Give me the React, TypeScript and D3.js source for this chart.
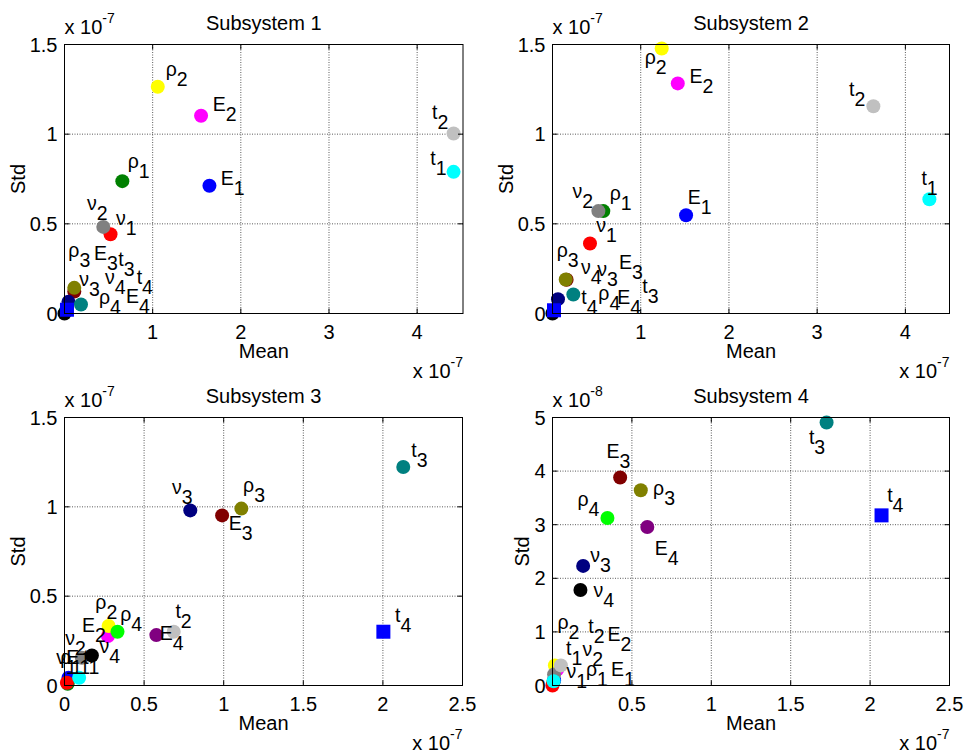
import React from 'react';
import * as d3 from 'd3';

// Series (drawing order) : symbol + subscript, colour and marker
const SYMBOLS = ['E', 'E', 'E', 'E', 'ρ', 'ρ', 'ρ', 'ρ', 'ν', 'ν', 'ν', 'ν', 't', 't', 't', 't'];
const SUBSCRIPTS = ['1', '2', '3', '4', '1', '2', '3', '4', '1', '2', '3', '4', '1', '2', '3', '4'];
const COLORS = [
  '#0000ff', '#ff00ff', '#800000', '#800080',
  '#008000', '#ffff00', '#808000', '#00ff00',
  '#ff0000', '#808080', '#000080', '#000000',
  '#00ffff', '#c0c0c0', '#008080', '#0000ff',
];
const MARKERS = ['o', 'o', 'o', 'o', 'o', 'o', 'o', 'o', 'o', 'o', 'o', 'o', 'o', 'o', 'o', 's'];

// Subsystem 1 (Mean x1e-7, Std x1e-7)
const S1_MEAN = [1.644, 1.549, 0.111, 0.03, 0.656, 1.058, 0.111, 0.02, 0.522, 0.44, 0.045, 0.0, 4.413, 4.413, 0.187, 0.028];
const S1_STD = [0.712, 1.103, 0.122, 0.03, 0.738, 1.264, 0.143, 0.02, 0.442, 0.483, 0.065, 0.0, 0.79, 1.004, 0.05, 0.021];
// Subsystem 2 (Mean x1e-7, Std x1e-7)
const S2_MEAN = [1.514, 1.42, 0.16, 0.01, 0.576, 1.238, 0.15, 0.01, 0.425, 0.52, 0.062, 0.0, 4.272, 3.637, 0.236, 0.017];
const S2_STD = [0.548, 1.283, 0.188, 0.01, 0.571, 1.478, 0.19, 0.01, 0.39, 0.571, 0.08, 0.0, 0.637, 1.156, 0.106, 0.018];
// Subsystem 3 (Mean x1e-7, Std x1e-7)
const S3_MEAN = [0.025, 0.273, 0.99, 0.577, 0.02, 0.277, 1.111, 0.333, 0.015, 0.109, 0.79, 0.172, 0.092, 0.686, 2.128, 2.003];
const S3_STD = [0.043, 0.277, 0.952, 0.282, 0.01, 0.333, 0.99, 0.301, 0.015, 0.155, 0.98, 0.168, 0.043, 0.301, 1.223, 0.301];
// Subsystem 4 (Mean x1e-7, Std x1e-8)
const S4_MEAN = [0.01, 0.03, 0.426, 0.597, 0.005, 0.015, 0.556, 0.346, 0.0, 0.01, 0.193, 0.176, 0.007, 0.053, 1.726, 2.072];
const S4_STD = [0.1, 0.3, 3.881, 2.956, 0.05, 0.375, 3.643, 3.125, 0.0, 0.206, 2.231, 1.781, 0.08, 0.375, 4.906, 3.174];

const TITLES = ['Subsystem 1', 'Subsystem 2', 'Subsystem 3', 'Subsystem 4'];
const X_DOMAINS = [[0, 4.52], [0, 4.5], [0, 2.5], [0, 2.5]];
const Y_DOMAINS = [[0, 1.5], [0, 1.5], [0, 1.5], [0, 5]];
const X_TICKS = [[1, 2, 3, 4], [1, 2, 3, 4], [0, 0.5, 1, 1.5, 2, 2.5], [0.5, 1, 1.5, 2, 2.5]];
const Y_TICKS = [[0, 0.5, 1, 1.5], [0, 0.5, 1, 1.5], [0, 0.5, 1, 1.5], [0, 1, 2, 3, 4, 5]];
const X_EXP = ['-7', '-7', '-7', '-7'];
const Y_EXP = ['-7', '-7', '-7', '-8'];

// label placement (pixel offsets from the marker: left edge, baseline)
const LABEL_OFFSETS = [
  [[11.4, -0.7], [11.7, -4.5], [19.7, -31.5], [58.9, -4.7], [5.4, -12.7], [8, -10.7], [-6, -31], [32.7, -6.4],
   [5.5, -9], [-16.2, -16.7], [10.7, -15.7], [40.5, -30], [-23.3, -6.7], [-21.6, -14], [37.3, -39], [69.7, -26]],
  [[1.7, -11.7], [11.6, 0], [52.3, -10.7], [63.9, -8.2], [6.4, -11], [-17, 15.7], [-9, -22.6], [44.9, -11.5],
   [6.3, -11.6], [-26, -13.3], [39.3, -23], [28.4, -40], [-8, -14.7], [-24.3, -10], [69, -1], [27.3, -6.7]],
  [[-2.3, -14], [-26, -4.3], [6.6, 14.4], [3.3, 4.4], [-7.5, -20], [-13.3, -16.6], [1.7, -16.7], [2.7, -10.7],
   [-10.7, -19], [-16.7, -13.3], [-18.3, -16], [7.6, -2.7], [4, -14], [1.7, -14], [8, -10], [11.6, -10]],
  [[56.8, -4], [50.2, -28.3], [-13.7, -19.7], [7.4, 28.4], [32.6, -6.6], [2.6, -36.7], [12.3, 5], [-30, -11.6],
   [14, -7.7], [28.3, -18.3], [7, -3.7], [13, 7.3], [12.4, -26.7], [27.3, -32.7], [-17.7, 21.7], [5.6, -13.4]],
];

const MEANS = [S1_MEAN, S2_MEAN, S3_MEAN, S4_MEAN];
const STDS = [S1_STD, S2_STD, S3_STD, S4_STD];

const PANEL_RECTS = [
  { left: 64.5, top: 44.5, width: 398.5, height: 269 },
  { left: 552.5, top: 44.5, width: 397, height: 269 },
  { left: 64.5, top: 417.5, width: 398, height: 268 },
  { left: 552.5, top: 417.5, width: 397, height: 268 },
];

const FONT = '"Liberation Sans", Arial, Helvetica, sans-serif';
const FS = 20;
const LFS = 19.5;

function textWidth(s: string, fs: number) {
  let w = 0;
  for (const c of s) w += c === '.' ? 0.278 : 0.556;
  return w * fs;
}

function Panel({ i }: { i: number }) {
  const r = PANEL_RECTS[i];
  const x = d3.scaleLinear().domain(X_DOMAINS[i]).range([r.left, r.left + r.width]);
  const y = d3.scaleLinear().domain(Y_DOMAINS[i]).range([r.top + r.height, r.top]);
  const bottom = r.top + r.height;
  const right = r.left + r.width;
  const tl = 5;
  const fmt = (v: number) => String(v);
  const maxYW = d3.max(Y_TICKS[i], (v) => textWidth(fmt(v), FS)) || 0;
  const mean = MEANS[i];
  const std = STDS[i];
  return (
    <g>
      {/* grid */}
      {X_TICKS[i].map((v) => (
        <line key={'gx' + v} x1={x(v)} x2={x(v)} y1={r.top} y2={bottom} stroke="#000" strokeOpacity={0.65} strokeWidth={1} strokeDasharray="1,1.5" />
      ))}
      {Y_TICKS[i].map((v) => (
        <line key={'gy' + v} x1={r.left} x2={right} y1={y(v)} y2={y(v)} stroke="#000" strokeOpacity={0.65} strokeWidth={1} strokeDasharray="1,1.5" />
      ))}
      {/* markers */}
      {mean.map((m, k) =>
        MARKERS[k] === 's' ? (
          <rect key={'m' + k} x={x(m) - 7} y={y(std[k]) - 7} width={14} height={14} fill={COLORS[k]} />
        ) : (
          <circle key={'m' + k} cx={x(m)} cy={y(std[k])} r={7} fill={COLORS[k]} />
        )
      )}
      {/* labels */}
      {mean.map((m, k) => (
        <text key={'l' + k} x={x(m) + LABEL_OFFSETS[i][k][0]} y={y(std[k]) + LABEL_OFFSETS[i][k][1]} fontSize={LFS} fontFamily={FONT} fill="#000">
          {SYMBOLS[k]}
          <tspan dy={10}>{SUBSCRIPTS[k]}</tspan>
        </text>
      ))}
      {/* box */}
      <rect x={r.left} y={r.top} width={r.width} height={r.height} fill="none" stroke="#000" strokeWidth={1} />
      {/* ticks */}
      {X_TICKS[i].map((v) => (
        <g key={'tx' + v}>
          <line x1={x(v)} x2={x(v)} y1={bottom} y2={bottom - tl} stroke="#000" />
          <line x1={x(v)} x2={x(v)} y1={r.top} y2={r.top + tl} stroke="#000" />
          <text x={x(v)} y={bottom + 25} textAnchor="middle" fontSize={FS} fontFamily={FONT}>{fmt(v)}</text>
        </g>
      ))}
      {Y_TICKS[i].map((v) => (
        <g key={'ty' + v}>
          <line x1={r.left} x2={r.left + tl} y1={y(v)} y2={y(v)} stroke="#000" />
          <line x1={right} x2={right - tl} y1={y(v)} y2={y(v)} stroke="#000" />
          <text x={r.left - 7} y={y(v) + 7} textAnchor="end" fontSize={FS} fontFamily={FONT}>{fmt(v)}</text>
        </g>
      ))}
      {/* title & axis labels */}
      <text x={(r.left + right) / 2} y={r.top - 15} textAnchor="middle" fontSize={FS} fontFamily={FONT}>{TITLES[i]}</text>
      <text x={(r.left + right) / 2} y={bottom + 44.5} textAnchor="middle" fontSize={FS} fontFamily={FONT}>Mean</text>
      <text
        transform={`translate(${r.left - 7 - maxYW - 5},${(r.top + bottom) / 2}) rotate(-90)`}
        textAnchor="middle" fontSize={FS} fontFamily={FONT}
      >Std</text>
      {/* exponents */}
      <text x={r.left} y={r.top - 11} fontSize={FS} fontFamily={FONT}>
        x 10<tspan dy={-11} fontSize={14}>{Y_EXP[i]}</tspan>
      </text>
      <text x={right} y={bottom + 64} textAnchor="end" fontSize={FS} fontFamily={FONT}>
        x 10<tspan dy={-11} fontSize={14}>{X_EXP[i]}</tspan>
      </text>
    </g>
  );
}

export default function App() {
  return (
    <svg width={968} height={756} style={{ position: 'absolute', left: 0, top: 0, background: '#fff' }}>
      <rect width={968} height={756} fill="#fff" />
      {[0, 1, 2, 3].map((i) => (
        <Panel key={i} i={i} />
      ))}
    </svg>
  );
}
